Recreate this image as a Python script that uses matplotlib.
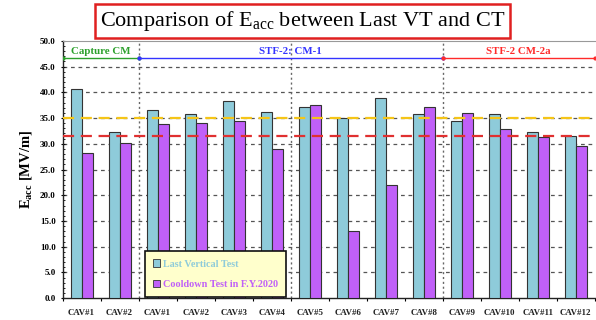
import matplotlib
matplotlib.use("Agg")
import matplotlib.pyplot as plt
from matplotlib.patches import Rectangle
import numpy as np

categories = ["CAV#1", "CAV#2",
              "CAV#1", "CAV#2", "CAV#3", "CAV#4", "CAV#5", "CAV#6", "CAV#7", "CAV#8",
              "CAV#9", "CAV#10", "CAV#11", "CAV#12"]
last_vt = [40.6, 32.2, 36.6, 35.7, 38.3, 36.2, 37.2, 35.1, 38.8, 35.8, 34.4, 35.8, 32.3, 31.5]
cooldown = [28.2, 30.1, 33.8, 34.0, 34.4, 28.9, 37.6, 13.1, 21.9, 37.1, 36.0, 32.9, 31.3, 29.6]
spec_yellow = 35.0
spec_red = 31.5

# module groups: (label, first index, last index + 1, colour)
modules = [("Capture CM", 0, 2, "#2ca02c"),
           ("STF-2: CM-1", 2, 10, "#3333ff"),
           ("STF-2 CM-2a", 10, 14, "#ff2a2a")]
dividers = [2, 6, 10]

c_vt = "#8ECBDA"
c_ct = "#C060F8"
serif = ["Liberation Serif", "DejaVu Serif"]

plt.rcParams["mathtext.fontset"] = "custom"
plt.rcParams["mathtext.rm"] = "Liberation Serif"
plt.rcParams["mathtext.it"] = "Liberation Serif:italic"
plt.rcParams["mathtext.bf"] = "Liberation Serif:bold"

fig = plt.figure(figsize=(5.96, 3.2), dpi=100)
ax = fig.add_axes([0.105, 0.068, 0.893, 0.8045])

x = np.arange(len(categories)) + 0.5
w = 0.29
ax.bar(x - w / 2, last_vt, w, color=c_vt, edgecolor="#333333", linewidth=0.8, zorder=3)
ax.bar(x + w / 2, cooldown, w, color=c_ct, edgecolor="#333333", linewidth=0.8, zorder=3)

ax.set_xlim(0, len(categories))
ax.set_ylim(0, 50)
ax.set_yticks(np.arange(0, 50.1, 5))
ax.set_yticklabels([f"{v:.1f}" for v in np.arange(0, 50.1, 5)],
                   fontfamily=serif, fontweight="bold", fontsize=6.5)
ax.set_yticks(np.arange(0, 50.1, 1), minor=True)
ax.set_xticks(np.arange(0, len(categories) + 1))
ax.set_xticklabels([])
ax.set_xticks(x, minor=True)
ax.set_xticklabels(categories, minor=True, fontfamily=serif, fontweight="bold", fontsize=6.4,
                   color="#222222")
ax.tick_params(axis="x", which="minor", length=0, pad=8)
ax.tick_params(axis="x", which="major", length=2.5, direction="out")
ax.tick_params(axis="y", which="major", length=3, direction="inout")
ax.tick_params(axis="y", which="minor", length=1.5, direction="in")

for y in np.arange(5, 50, 5):
    ax.axhline(y, color="#555555", linestyle=(0, (3, 3)), linewidth=0.9, zorder=1)

for d in dividers:
    ax.axvline(d, color="#666666", linestyle=(0, (1.5, 2)), linewidth=1.0, zorder=2)

ax.axhline(spec_yellow, color="#F5C518", linestyle=(0, (5, 3)), linewidth=1.6, zorder=4)
ax.axhline(spec_red, color="#E03030", linestyle=(0, (5, 3)), linewidth=1.6, zorder=4)

for label, i0, i1, col in modules:
    ax.plot([i0, i1], [46.7, 46.7], color=col, linewidth=1.0, marker="o", markersize=2, zorder=5)
    ax.text((i0 + i1) / 2, 47.1, label, color=col, ha="center", va="bottom",
            fontfamily=serif, fontweight="bold", fontsize=7.8)

for s in ["left", "bottom"]:
    ax.spines[s].set_color("#222222")
    ax.spines[s].set_linewidth(1.0)
ax.spines["top"].set_color("#999999")
ax.spines["right"].set_visible(False)

ax.set_ylabel(r"$\mathbf{E_{acc}}$ [MV/m]", fontfamily=serif, fontweight="bold", fontsize=10.5,
              labelpad=4)

handles = [Rectangle((0, 0), 1, 1, facecolor=c_vt, edgecolor="#333333", linewidth=0.6),
           Rectangle((0, 0), 1, 1, facecolor=c_ct, edgecolor="#333333", linewidth=0.6)]
leg = ax.legend(handles, ["Last Vertical Test", "Cooldown Test in F.Y.2020"],
                loc="lower left", bbox_to_anchor=(0.154, 0.005),
                prop={"family": serif, "weight": "bold", "size": 7.3},
                frameon=True, fancybox=False, handlelength=0.7, handleheight=0.7,
                handletextpad=0.3, labelspacing=1.1, borderpad=0.8, borderaxespad=0)
leg.get_frame().set_facecolor("#FFFFCC")
leg.get_frame().set_edgecolor("#111111")
leg.get_frame().set_linewidth(1.2)
leg.get_frame().set_alpha(1)
leg.set_zorder(6)
for t, c in zip(leg.get_texts(), [c_vt, c_ct]):
    t.set_color(c)

fig.text(0.508, 0.935, r"Comparison of E$_{\mathrm{acc}}$ between Last VT and CT",
         ha="center", va="center", fontfamily=serif, fontsize=16,
         bbox=dict(boxstyle="square,pad=0.22", facecolor="white", edgecolor="#E02020", linewidth=1.8))

fig.savefig("out.png", dpi=100)
